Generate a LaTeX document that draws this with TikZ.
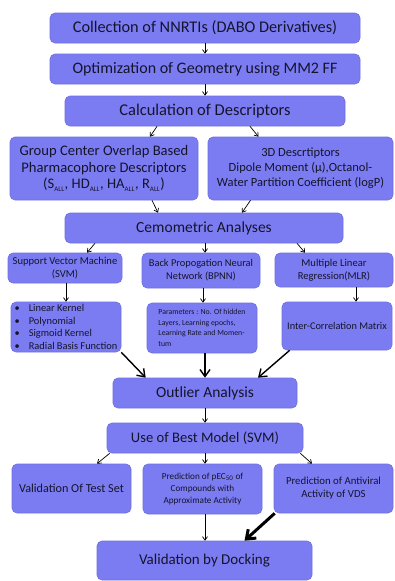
\documentclass[tikz,border=0pt]{standalone}
\usepackage{fontspec}
\setmainfont{Carlito}
\usetikzlibrary{arrows.meta,calc}
\definecolor{boxfill}{RGB}{124,124,242}
\definecolor{boxline}{RGB}{110,110,225}
\definecolor{txt}{RGB}{20,20,45}
\tikzset{
  box/.style={draw=boxline, line width=0.6pt, fill=boxfill, rounded corners=5pt, align=center, text=txt, inner sep=1pt},
  fs/.style={font=\fontsize{#1}{#1*1.2}\selectfont},
  arr/.style={line width=0.7pt, -{Straight Barb[length=3.5pt,width=5pt]}},
  thk/.style={line width=1.4pt, -{Straight Barb[length=7pt,width=10pt]}},
  vthk/.style={line width=3pt, -{Straight Barb[length=8pt,width=12pt]}},
}
\newcommand{\sbs}[1]{\textsubscript{\fontsize{7}{8}\selectfont #1}}
\begin{document}
\begin{tikzpicture}[x=1pt,y=-1pt]
\useasboundingbox (0,0) rectangle (394,581);
\node[box,font=\fontsize{16.3}{19}\selectfont,minimum width=310pt,minimum height=30pt] (b1) at (205,28) {Collection of NNRTIs (DABO Derivatives)};
\node[box,font=\fontsize{16}{19}\selectfont,minimum width=310pt,minimum height=30pt] (b2) at (205,69) {Optimization of Geometry using MM2 FF};
\node[box,font=\fontsize{16.5}{19}\selectfont,minimum width=280pt,minimum height=30pt] (b3) at (205,111) {Calculation of Descriptors};
\node[box,font=\fontsize{14.6}{16.5}\selectfont,minimum width=188pt,minimum height=63pt] (b4) at (104,168.5) {Group Center Overlap Based\\Pharmacophore Descriptors\\(S\sbs{ALL}, HD\sbs{ALL}, HA\sbs{ALL}, R\sbs{ALL})};
\node[box,font=\fontsize{12.5}{15}\selectfont,minimum width=185pt,minimum height=63pt] (b5) at (300.5,168.5) {3D Descrtiptors\\Dipole Moment (μ),Octanol-\\Water Partition Coefficient (logP)};
\node[box,font=\fontsize{15.5}{18}\selectfont,minimum width=278pt,minimum height=30pt] (b6) at (204,228) {Cemometric Analyses};
\node[box,font=\fontsize{10.6}{13}\selectfont,minimum width=114pt,minimum height=30pt] (svm) at (65,268) {Support Vector Machine\\(SVM)};
\node[box,font=\fontsize{10.4}{13}\selectfont,minimum width=118pt,minimum height=35pt] (bpnn) at (201,270.5) {Back Propogation Neural\\Network (BPNN)};
\node[box,font=\fontsize{10.6}{13}\selectfont,minimum width=118pt,minimum height=34pt] (mlr) at (334,270) {Multiple Linear\\Regression(MLR)};
\node[box,font=\fontsize{10.4}{12.5}\selectfont,minimum width=110pt,minimum height=50pt,align=left] (bul) at (66,327) {\textbullet\hspace{9pt}Linear Kernel\\\textbullet\hspace{9pt}Polynomial\\\textbullet\hspace{9pt}Sigmoid Kernel\\\textbullet\hspace{9pt}Radial Basis Function};
\node[box,font=\fontsize{7.8}{10.5}\selectfont,minimum width=110pt,minimum height=50pt,align=left] (par) at (202,328) {Parameters : No. Of hidden\\Layers, Learning epochs,\\Learning Rate and Momen-\\tum};
\node[box,font=\fontsize{10.3}{12.5}\selectfont,minimum width=110pt,minimum height=48pt] (inter) at (337,326) {Inter-Correlation Matrix};
\node[box,font=\fontsize{15.5}{18}\selectfont,minimum width=184pt,minimum height=30pt] (out) at (205,393) {Outlier Analysis};
\node[box,font=\fontsize{14.6}{17}\selectfont,minimum width=196pt,minimum height=30pt] (best) at (205,438) {Use of Best Model (SVM)};
\node[box,font=\fontsize{12.2}{14}\selectfont,minimum width=119pt,minimum height=49pt] (val) at (71.5,488.5) {Validation Of Test Set};
\node[box,font=\fontsize{9.2}{12}\selectfont,minimum width=119pt,minimum height=50pt] (pec) at (202.5,489) {Prediction of pEC\sbs{50} of\\Compounds with\\Approximate Activity};
\node[box,font=\fontsize{10.8}{13}\selectfont,minimum width=119pt,minimum height=49pt] (anti) at (333.5,488.5) {Prediction of Antiviral\\Activity of VDS};
\node[box,font=\fontsize{15}{18}\selectfont,minimum width=215pt,minimum height=39pt] (dock) at (204.5,560.5) {Validation by Docking};
% arrows
\draw[arr] (b1.south) -- (b2.north);
\draw[arr] (b2.south) -- (b3.north);
\draw[arr] ([xshift=-48pt]b3.south) -- ([xshift=46pt]b4.north);
\draw[arr] ([xshift=45pt]b3.south) -- ([xshift=-42pt]b5.north);
\draw[arr] ([xshift=48pt]b4.south) -- ([xshift=-46pt]b6.north);
\draw[arr] ([xshift=-50pt]b5.south) -- ([xshift=38pt]b6.north);
\draw[arr] ([xshift=-109pt]b6.south) -- ([xshift=22pt]svm.north);
\draw[arr] ([xshift=1pt]b6.south) -- ([xshift=1pt]b6.south |- bpnn.north);
\draw[arr] ([xshift=93pt]b6.south) -- ([xshift=-29pt]mlr.north);
\draw[arr] ([xshift=1pt]svm.south) -- ([xshift=1pt]svm.south |- bul.north);
\draw[arr] ([xshift=2pt]bpnn.south) -- ([xshift=2pt]bpnn.south |- par.north);
\draw[arr] ([xshift=22pt]mlr.south) -- ([xshift=22pt]mlr.south |- inter.north);
\draw[thk] (bul.south east) -- ([xshift=33pt]out.north west);
\draw[thk] ([xshift=3pt]par.south) -- ([xshift=3pt]par.south |- out.north);
\draw[thk] ([xshift=8pt]inter.south west) -- ([xshift=53pt]out.north);
\draw[arr] (out.south) -- (best.north);
\draw[arr] ([xshift=3pt]best.south west) -- ([xshift=25.5pt]val.north);
\draw[arr] (best.south) -- (best.south |- pec.north);
\draw[arr] ([xshift=-3pt]best.south east) -- ([xshift=-21.5pt]anti.north);
\draw[arr] ([xshift=2.5pt]pec.south) -- ([xshift=2.5pt]pec.south |- dock.north);
\draw[vthk] ([xshift=1pt]anti.south west) -- ([xshift=40pt]dock.north);
\end{tikzpicture}
\end{document}
